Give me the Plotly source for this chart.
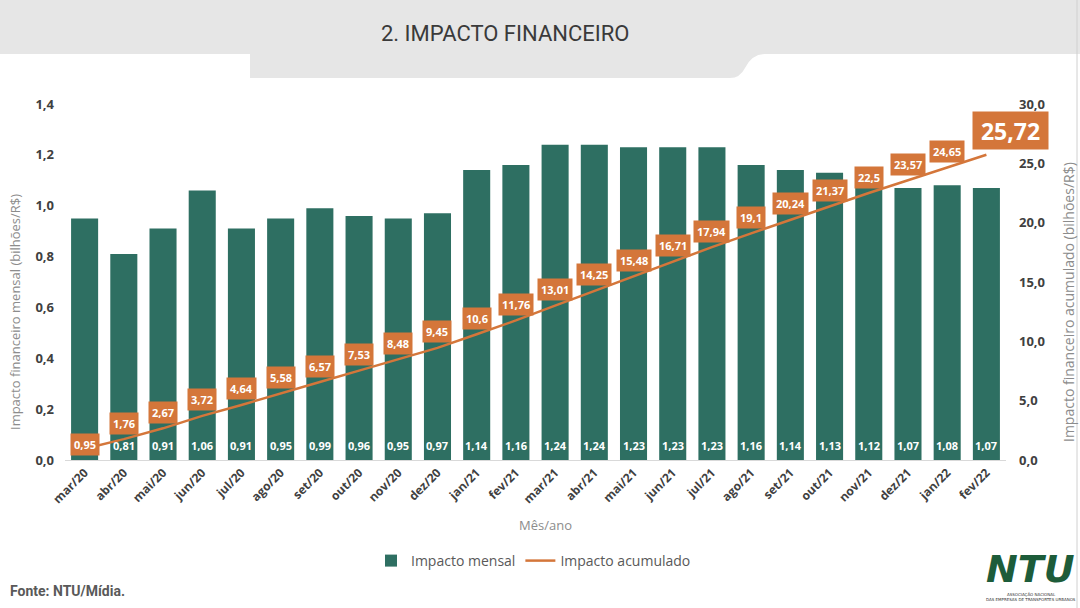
import plotly.graph_objects as go

categories = ["mar/20","abr/20","mai/20","jun/20","jul/20","ago/20","set/20","out/20","nov/20","dez/20",
              "jan/21","fev/21","mar/21","abr/21","mai/21","jun/21","jul/21","ago/21","set/21","out/21",
              "nov/21","dez/21","jan/22","fev/22"]
monthly = [0.95,0.81,0.91,1.06,0.91,0.95,0.99,0.96,0.95,0.97,1.14,1.16,1.24,1.24,1.23,1.23,1.23,1.16,1.14,1.13,1.12,1.07,1.08,1.07]
cumulative = [0.95,1.76,2.67,3.72,4.64,5.58,6.57,7.53,8.48,9.45,10.6,11.76,13.01,14.25,15.48,16.71,17.94,19.1,20.24,21.37,22.5,23.57,24.65,25.72]
left_ticks = [0.0,0.2,0.4,0.6,0.8,1.0,1.2,1.4]
right_ticks = [0.0,5.0,10.0,15.0,20.0,25.0,30.0]

GREEN = "#2e6f62"
ORANGE = "#d4763a"
W, H = 1080, 608
L, R, T, B = 65, 1006, 104, 460

def px(x):
    return (x - L) / (R - L)

def py(y):
    return (B - y) / (B - T)

def fmt(v):
    return str(v).replace(".", ",")

fig = go.Figure()
fig.add_trace(go.Bar(x=categories, y=monthly, name="Impacto mensal", marker_color=GREEN,
                     marker_line_width=0, yaxis="y"))
fig.add_trace(go.Scatter(x=categories, y=cumulative, name="Impacto acumulado", mode="lines",
                         line=dict(color=ORANGE, width=2.5), yaxis="y2"))

ann = []
# bar value labels
for c, v in zip(categories, monthly):
    ann.append(dict(x=c, y=0, xref="x", yref="y", text=f"<b>{fmt(v)}</b>", showarrow=False,
                    yanchor="bottom", yshift=5, font=dict(family="Open Sans", size=11, color="white")))
# cumulative labels
n = len(categories)
for i, (c, v) in enumerate(zip(categories, cumulative)):
    if i == n - 1:
        ann.append(dict(x=c, y=v, xref="x", yref="y2", text=f"<b>{fmt(v)}</b>", showarrow=False,
                        xanchor="center", yanchor="middle", xshift=24, yshift=24,
                        bgcolor=ORANGE, borderpad=3, width=69, height=31,
                        font=dict(family="Open Sans", size=23, color="white")))
    else:
        ys = 4 if i == 0 else 16
        ann.append(dict(x=c, y=v, xref="x", yref="y2", text=f"<b>{fmt(v)}</b>", showarrow=False,
                        xanchor="center", yanchor="middle", yshift=ys,
                        bgcolor=ORANGE, borderpad=3,
                        font=dict(family="Open Sans", size=11, color="white")))

# titles and text
ann.append(dict(x=px(505), y=py(33), xref="paper", yref="paper", text="2. IMPACTO FINANCEIRO",
                showarrow=False, xanchor="center", yanchor="middle",
                font=dict(family="Roboto, sans-serif", size=22, color="#3a3a3a")))
ann.append(dict(x=px(15), y=py(312), xref="paper", yref="paper", text="Impacto financeiro mensal (bilhões/R$)",
                showarrow=False, textangle=-90, xanchor="center", yanchor="middle",
                font=dict(family="Open Sans", size=13, color="#8c8c8c")))
ann.append(dict(x=px(1068), y=py(302), xref="paper", yref="paper", text="Impacto financeiro acumulado (bilhões/R$)",
                showarrow=False, textangle=-90, xanchor="center", yanchor="middle",
                font=dict(family="Open Sans", size=14, color="#8c8c8c")))
ann.append(dict(x=px(545), y=py(525), xref="paper", yref="paper", text="Mês/ano",
                showarrow=False, xanchor="center", yanchor="middle",
                font=dict(family="Open Sans", size=13, color="#8c8c8c")))
ann.append(dict(x=px(8), y=py(591), xref="paper", yref="paper", text="<b>Fonte: NTU/Mídia.</b>",
                showarrow=False, xanchor="left", yanchor="middle",
                font=dict(family="Roboto, sans-serif", size=14, color="#595959")))
# logo approximation
ann.append(dict(x=px(1030), y=py(569), xref="paper", yref="paper", text="<b><i>NTU</i></b>",
                showarrow=False, xanchor="center", yanchor="middle",
                font=dict(family="DejaVu Sans", size=38, color="#1d5c3a")))
ann.append(dict(x=px(1031), y=py(594), xref="paper", yref="paper", text="ASSOCIAÇÃO NACIONAL",
                showarrow=False, xanchor="center", yanchor="middle",
                font=dict(family="DejaVu Sans", size=4, color="#333333")))
ann.append(dict(x=px(1031), y=py(599), xref="paper", yref="paper", text="DAS EMPRESAS DE TRANSPORTES URBANOS",
                showarrow=False, xanchor="center", yanchor="middle",
                font=dict(family="DejaVu Sans", size=4, color="#333333")))

shapes = [
    dict(type="rect", xref="paper", yref="paper", x0=px(0), x1=px(W), y0=py(0), y1=py(54),
         fillcolor="#e6e6e6", line_width=0, layer="below"),
    dict(type="path", xref="paper", yref="paper",
         path=(f"M {px(250)},{py(54)} L {px(250)},{py(78)} L {px(730)},{py(78)} "
               f"Q {px(740)},{py(78)} {px(745)},{py(68)} Q {px(752)},{py(54)} {px(765)},{py(54)} Z"),
         fillcolor="#e6e6e6", line_width=0, layer="below"),
    dict(type="line", xref="paper", yref="paper", x0=px(1077), x1=px(1077), y0=py(0), y1=py(608),
         line=dict(color="#d0d0d0", width=1)),
]

fig.update_layout(
    width=W, height=H,
    margin=dict(l=L, r=W - R, t=T, b=H - B),
    paper_bgcolor="white", plot_bgcolor="white",
    separators=",.",
    bargap=0.31,
    showlegend=True,
    legend=dict(orientation="h", x=px(371), y=py(561), xanchor="left", yanchor="middle",
                font=dict(family="Open Sans", size=14, color="#595959"), bgcolor="rgba(0,0,0,0)",
                itemwidth=30),
    xaxis=dict(type="category", tickangle=-45, showgrid=False, showline=True, linecolor="#d9d9d9",
               linewidth=1, ticks="", tickfont=dict(family="Open Sans", size=12, color="#404040", weight="bold"),
               range=[-0.5, n - 0.5]),
    yaxis=dict(range=[0, 1.4], tickvals=left_ticks, tickformat=".1f", showgrid=False, zeroline=False,
               ticks="", ticklabelstandoff=10,
               tickfont=dict(family="Open Sans", size=13, color="#404040", weight="bold")),
    yaxis2=dict(range=[0, 30], tickvals=right_ticks, tickformat=".1f", overlaying="y", side="right",
                showgrid=False, zeroline=False, ticks="", ticklabelstandoff=12,
                tickfont=dict(family="Open Sans", size=13, color="#404040", weight="bold")),
    annotations=ann,
    shapes=shapes,
)

fig.write_html("out.html")
